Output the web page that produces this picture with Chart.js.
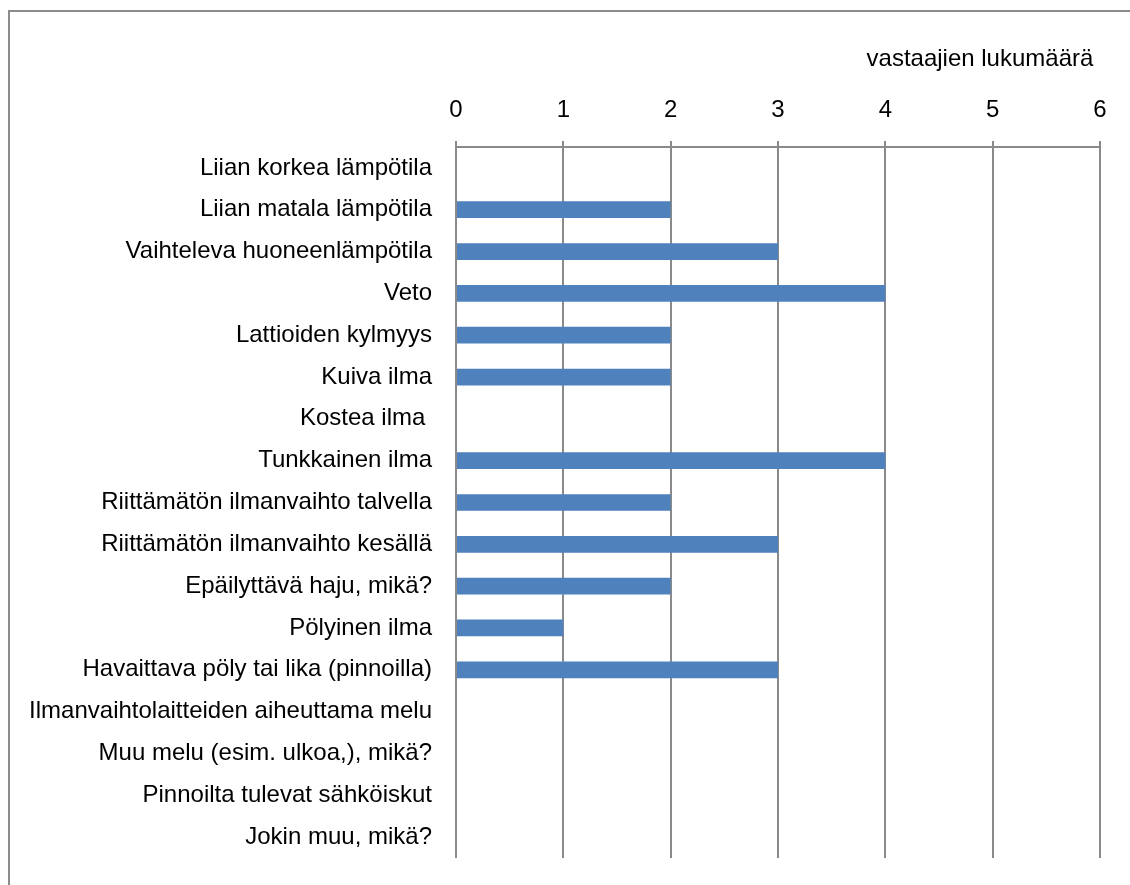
<!DOCTYPE html>
<html>
<head>
<meta charset="utf-8">
<script src="https://cdn.jsdelivr.net/npm/chart.js@4"></script>
<style>
    body { margin: 0; background: #fff; }
    #wrap { position: relative; width: 1130px; height: 885px; overflow: hidden; }
    #frame {
        position: absolute; left: 8px; top: 10px; right: -20px; bottom: -20px;
        border-top: 2px solid #8c8c8c; border-left: 2px solid #8c8c8c;
    }
    #chart { position: absolute; left: 0; top: 0; }
</style>
</head>
<body>
<div id="wrap">
    <div id="frame"></div>
    <canvas id="chart" width="1130" height="885"></canvas>
</div>
<script>
const categories = [
    "Liian korkea lämpötila",
    "Liian matala lämpötila",
    "Vaihteleva huoneenlämpötila",
    "Veto",
    "Lattioiden kylmyys",
    "Kuiva ilma",
    "Kostea ilma ",
    "Tunkkainen ilma",
    "Riittämätön ilmanvaihto talvella",
    "Riittämätön ilmanvaihto kesällä",
    "Epäilyttävä haju, mikä?",
    "Pölyinen ilma",
    "Havaittava pöly tai lika (pinnoilla)",
    "Ilmanvaihtolaitteiden aiheuttama melu",
    "Muu melu (esim. ulkoa,), mikä?",
    "Pinnoilta tulevat sähköiskut",
    "Jokin muu, mikä?"
];
const respondents = [0, 2, 3, 4, 2, 2, 0, 4, 2, 3, 2, 1, 3, 0, 0, 0, 0];
const axisTitle = "vastaajien lukumäärä\u00a0";
const xMin = 0;
const xMax = 6;

const font = { family: "'Liberation Sans', Arial, sans-serif", size: 24 };
const gridColor = "#8a8a8a";

new Chart(document.getElementById("chart"), {
    type: "bar",
    data: {
        labels: categories,
        datasets: [{
            data: respondents,
            backgroundColor: "#4f81bd",
            borderWidth: 0,
            barPercentage: 0.4,
            categoryPercentage: 1,
        }]
    },
    options: {
        indexAxis: "y",
        responsive: false,
        animation: false,
        layout: { padding: { left: 0, right: 30, top: 0, bottom: 27 } },
        plugins: {
            legend: { display: false },
            tooltip: { enabled: false },
        },
        scales: {
            x: {
                position: "top",
                min: xMin,
                max: xMax,
                ticks: { stepSize: 1, color: "#000", font: font, padding: 16 },
                grid: { color: gridColor, lineWidth: 2, tickLength: 6 },
                border: { display: true, color: gridColor, width: 2 },
                title: {
                    display: true,
                    text: axisTitle,
                    align: "end",
                    color: "#000",
                    font: font,
                    padding: { top: 45, bottom: 0 },
                },
                afterFit: (scale) => { scale.height = 147; },
            },
            y: {
                ticks: { color: "#000", font: font, padding: 24 },
                grid: { display: false, drawTicks: false },
                border: { display: false },
                afterFit: (scale) => {
                    scale.width = 456;
                    scale.paddingTop = 0;
                    scale.paddingBottom = 0;
                },
            },
        },
    },
});
</script>
</body>
</html>
